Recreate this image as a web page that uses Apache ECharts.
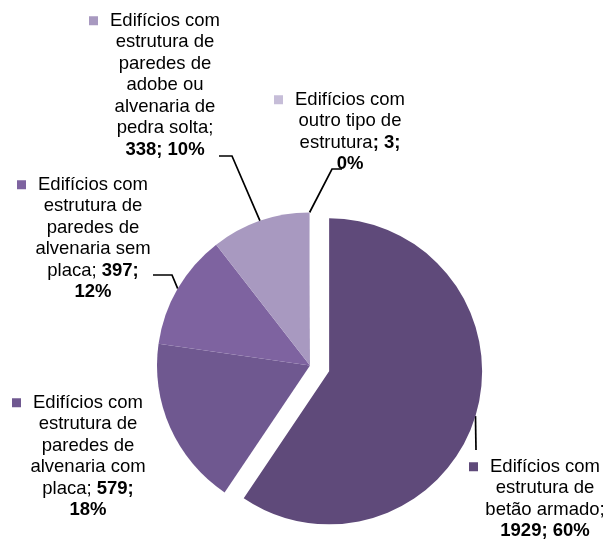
<!DOCTYPE html>
<html>
<head>
<meta charset="utf-8">
<script src="https://cdn.jsdelivr.net/npm/echarts@6/dist/echarts.min.js"></script>
<style>
  html, body { margin: 0; padding: 0; background: #fff; }
  #chart { width: 611px; height: 542px; }
</style>
</head>
<body>
<div id="chart"></div>
<script>
// Building counts by type of structure
const categories = [
  'Edifícios com\nestrutura de\nbetão armado;',
  'Edifícios com\nestrutura de\nparedes de\nalvenaria com\nplaca;',
  'Edifícios com\nestrutura de\nparedes de\nalvenaria sem\nplaca;',
  'Edifícios com\nestrutura de\nparedes de\nadobe ou\nalvenaria de\npedra solta;',
  'Edifícios com\noutro tipo de\nestrutura'
];
const values = [1929, 579, 397, 338, 3];
const percents = ['60%', '18%', '12%', '10%', '0%'];
const colors = ['#5F4A7A', '#6F5890', '#7E63A0', '#A899C0', '#C6BDD8'];

// Label placement: centre x, top y, how the value part follows the name,
// and the bend/end points of each leader line (null = no leader).
const labelPlacement = [
  { x: 545, y: 456, sep: '\n', valueSep: '; ', guide: [[476, 450]] },
  { x: 88,  y: 392, sep: ' ',  valueSep: '\n', guide: null },
  { x: 93,  y: 174, sep: ' ',  valueSep: '\n', guide: [[172, 275], [153, 275]] },
  { x: 165, y: 10,  sep: '\n', valueSep: '; ', guide: [[232, 156], [219, 156]] },
  { x: 350, y: 89,  sep: '',   valueSep: '\n', guide: [[332, 169], [342, 169]] }
];

const FONT = 'Liberation Sans, Arial, sans-serif';
const FS = 18.5;
const LH = 21.5;

// Pie geometry; the first slice (betão armado) is pulled out along its mid-angle
const CENTER = [310, 365.5];
const RADIUS = 153;
const PULL = 20;
const EXPLODED = 0;

const total = values.reduce((a, b) => a + b, 0);
const before = values.slice(0, EXPLODED).reduce((a, b) => a + b, 0);
const midAngle = (before + values[EXPLODED] / 2) / total * 2 * Math.PI; // clockwise from 12 o'clock
const pulledCenter = [
  CENTER[0] + PULL * Math.sin(midAngle),
  CENTER[1] - PULL * Math.cos(midAngle)
];

function labelText(i) {
  const p = labelPlacement[i];
  const lines = categories[i].split('\n');
  const first = '{sq' + i + '|}{gap|}{t|' + lines[0] + '}{pad|}';
  const rest = lines.slice(1);
  let tail;
  if (i === 4) {
    // "estrutura; 3;" with the value part in bold
    tail = '{t|' + rest.join('}\n{t|') + '}{b|; ' + values[i] + ';}\n{b|' + percents[i] + '}';
  } else {
    const last = rest.pop();
    const restStr = rest.length ? '{t|' + rest.join('}\n{t|') + '}\n' : '';
    const valuePart = p.valueSep === '\n'
      ? '{b|' + values[i] + ';}\n{b|' + percents[i] + '}'
      : '{b|' + values[i] + '; ' + percents[i] + '}';
    tail = restStr + '{t|' + last + '}' + (p.sep === '\n' ? '\n' : p.sep) + valuePart;
  }
  return first + '\n' + tail;
}

const rich = {
  t: { fontFamily: FONT, fontSize: FS, lineHeight: LH, color: '#000' },
  b: { fontFamily: FONT, fontSize: FS, lineHeight: LH, color: '#000', fontWeight: 'bold' },
  gap: { width: 12, height: 8, lineHeight: LH },
  pad: { width: 21, height: 8, lineHeight: LH }
};
colors.forEach((c, i) => {
  rich['sq' + i] = { width: 9, height: 9, backgroundColor: c, lineHeight: LH };
});

// Each ring draws the full data set; a slice is visible only in the ring it belongs to.
function ringData(visible) {
  return categories.map((name, i) => {
    const on = visible(i);
    return {
      name: name,
      value: values[i],
      itemStyle: { color: on ? colors[i] : 'rgba(0,0,0,0)' },
      label: { show: on, formatter: () => labelText(i) },
      labelLine: { show: on && labelPlacement[i].guide !== null }
    };
  });
}

function pieSeries(center, data) {
  return {
    type: 'pie',
    center: center,
    radius: RADIUS,
    startAngle: 90,
    clockwise: true,
    selectedMode: false,
    avoidLabelOverlap: false,
    minAngle: 0,
    silent: true,
    itemStyle: { borderWidth: 0 },
    emphasis: { disabled: true },
    label: {
      show: true,
      position: 'outside',
      rich: rich,
      fontFamily: FONT,
      fontSize: FS,
      lineHeight: LH,
      color: '#000'
    },
    labelLine: {
      show: true,
      lineStyle: { color: '#000', width: 1.7 }
    },
    labelLayout: function (params) {
      const p = labelPlacement[params.dataIndex];
      const out = { x: p.x, y: p.y, align: 'center', verticalAlign: 'top' };
      if (p.guide && params.labelLinePoints) {
        out.labelLinePoints = [params.labelLinePoints[0]].concat(p.guide);
      }
      return out;
    },
    data: data
  };
}

const chart = echarts.init(document.getElementById('chart'), null, { renderer: 'canvas' });
chart.setOption({
  backgroundColor: '#ffffff',
  animation: false,
  series: [
    pieSeries(CENTER, ringData(i => i !== EXPLODED)),
    pieSeries(pulledCenter, ringData(i => i === EXPLODED))
  ]
});
</script>
</body>
</html>
